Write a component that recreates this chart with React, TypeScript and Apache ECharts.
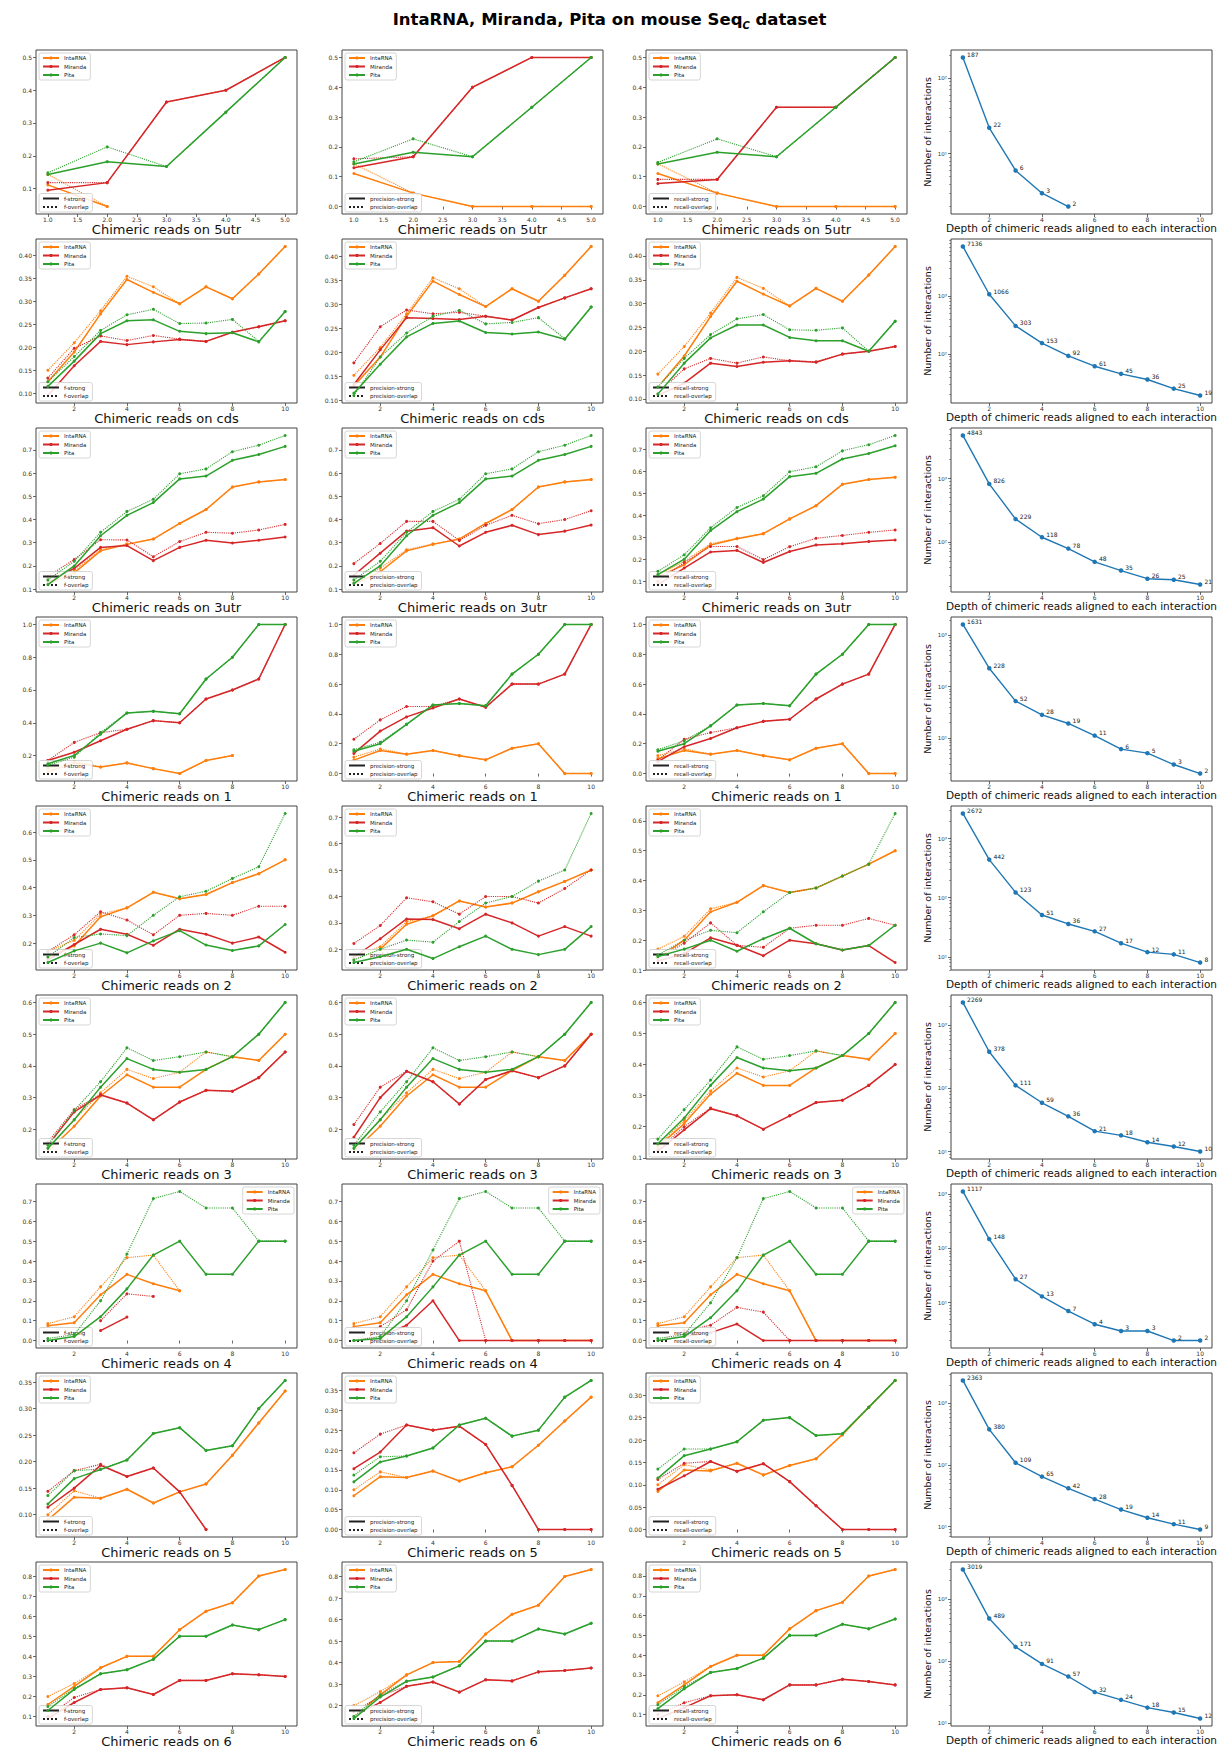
import React, { useEffect, useRef } from "react";
import * as echarts from "echarts";

const N = null;

const regions = ["5utr", "cds", "3utr", "1", "2", "3", "4", "5", "6"];
const methods = ["IntaRNA", "Miranda", "Pita"];
const methodColors = ["#ff7f0e", "#d62728", "#2ca02c"];
const metricPrefixes = ["f", "precision", "recall"];
const x5 = [1, 2, 3, 4, 5];
const x10 = [1, 2, 3, 4, 5, 6, 7, 8, 9, 10];
const xTicks5 = [1.0, 1.5, 2.0, 2.5, 3.0, 3.5, 4.0, 4.5, 5.0];
const xTicks10 = [2, 4, 6, 8, 10];
const logTicks = [1, 10, 100, 1000, 10000];
const yTickSteps = [
  [0.1, 0.1, 0.1],
  [0.05, 0.05, 0.05],
  [0.1, 0.1, 0.1],
  [0.2, 0.2, 0.2],
  [0.1, 0.1, 0.1],
  [0.1, 0.1, 0.1],
  [0.1, 0.1, 0.1],
  [0.05, 0.05, 0.05],
  [0.1, 0.1, 0.1],
];

// rows: IntaRNA strong, IntaRNA overlap, Miranda strong, Miranda overlap, Pita strong, Pita overlap
const f_5utr = [
  [0.111, 0.045, N, N, N],
  [0.143, 0.045, N, N, N],
  [0.095, 0.118, 0.364, 0.4, 0.5],
  [0.118, 0.118, 0.364, 0.4, 0.5],
  [0.143, 0.182, 0.167, 0.333, 0.5],
  [0.148, 0.227, 0.167, 0.333, 0.5],
];
const precision_5utr = [
  [0.111, 0.045, 0, 0, 0],
  [0.143, 0.045, 0, 0, 0],
  [0.13, 0.167, 0.4, 0.5, 0.5],
  [0.16, 0.167, 0.4, 0.5, 0.5],
  [0.143, 0.182, 0.167, 0.333, 0.5],
  [0.15, 0.227, 0.167, 0.333, 0.5],
];
const recall_5utr = [
  [0.111, 0.045, 0, 0, 0],
  [0.143, 0.045, 0, 0, 0],
  [0.077, 0.091, 0.333, 0.333, 0.5],
  [0.091, 0.091, 0.333, 0.333, 0.5],
  [0.143, 0.182, 0.167, 0.333, 0.5],
  [0.148, 0.227, 0.167, 0.333, 0.5],
];
const counts_5utr = [187, 22, 6, 3, 2];

const f_cds = [
  [0.125, 0.19, 0.273, 0.348, 0.32, 0.295, 0.332, 0.306, 0.36, 0.42],
  [0.15, 0.21, 0.28, 0.355, 0.332, 0.295, 0.332, 0.306, 0.36, 0.42],
  [0.095, 0.16, 0.213, 0.206, 0.212, 0.217, 0.213, 0.233, 0.245, 0.258],
  [0.133, 0.198, 0.225, 0.215, 0.226, 0.218, 0.213, 0.233, 0.245, 0.258],
  [0.115, 0.17, 0.23, 0.258, 0.26, 0.235, 0.23, 0.232, 0.212, 0.278],
  [0.125, 0.18, 0.237, 0.271, 0.283, 0.252, 0.253, 0.261, 0.213, 0.278],
];
const precision_cds = [
  [0.13, 0.19, 0.275, 0.348, 0.32, 0.295, 0.332, 0.306, 0.36, 0.42],
  [0.152, 0.21, 0.28, 0.355, 0.332, 0.295, 0.332, 0.306, 0.36, 0.42],
  [0.133, 0.205, 0.272, 0.27, 0.268, 0.275, 0.267, 0.293, 0.313, 0.332],
  [0.178, 0.253, 0.288, 0.28, 0.283, 0.275, 0.267, 0.293, 0.313, 0.332],
  [0.115, 0.175, 0.232, 0.26, 0.265, 0.241, 0.238, 0.242, 0.227, 0.294],
  [0.11, 0.19, 0.24, 0.275, 0.287, 0.259, 0.262, 0.272, 0.228, 0.294],
];
const recall_cds = [
  [0.125, 0.19, 0.273, 0.347, 0.32, 0.295, 0.332, 0.305, 0.36, 0.42],
  [0.152, 0.21, 0.28, 0.355, 0.332, 0.295, 0.332, 0.305, 0.36, 0.42],
  [0.107, 0.133, 0.175, 0.168, 0.177, 0.18, 0.177, 0.194, 0.2, 0.21],
  [0.112, 0.163, 0.185, 0.175, 0.188, 0.18, 0.178, 0.194, 0.2, 0.21],
  [0.11, 0.175, 0.228, 0.255, 0.255, 0.229, 0.222, 0.222, 0.2, 0.263],
  [0.125, 0.185, 0.235, 0.268, 0.277, 0.245, 0.244, 0.249, 0.2, 0.263],
];
const counts_cds = [7136, 1066, 303, 153, 92, 61, 45, 36, 25, 19];

const f_3utr = [
  [0.12, 0.17, 0.265, 0.293, 0.316, 0.383, 0.443, 0.54, 0.562, 0.572],
  [0.15, 0.18, 0.27, 0.295, 0.316, 0.383, 0.443, 0.54, 0.562, 0.572],
  [0.13, 0.19, 0.28, 0.288, 0.223, 0.28, 0.311, 0.299, 0.311, 0.325],
  [0.155, 0.228, 0.313, 0.312, 0.24, 0.305, 0.345, 0.341, 0.355, 0.379],
  [0.12, 0.2, 0.33, 0.418, 0.473, 0.575, 0.587, 0.655, 0.68, 0.715],
  [0.14, 0.22, 0.345, 0.435, 0.487, 0.597, 0.618, 0.692, 0.72, 0.762],
];
const precision_3utr = [
  [0.12, 0.175, 0.265, 0.293, 0.316, 0.383, 0.443, 0.54, 0.562, 0.572],
  [0.13, 0.19, 0.27, 0.295, 0.316, 0.383, 0.443, 0.54, 0.562, 0.572],
  [0.16, 0.255, 0.35, 0.365, 0.286, 0.345, 0.375, 0.335, 0.35, 0.376],
  [0.21, 0.297, 0.392, 0.392, 0.31, 0.375, 0.418, 0.382, 0.4, 0.438],
  [0.125, 0.2, 0.33, 0.418, 0.473, 0.575, 0.587, 0.655, 0.68, 0.715],
  [0.14, 0.22, 0.345, 0.435, 0.487, 0.597, 0.618, 0.692, 0.72, 0.762],
];
const recall_3utr = [
  [0.12, 0.175, 0.265, 0.293, 0.316, 0.383, 0.443, 0.54, 0.562, 0.572],
  [0.13, 0.19, 0.27, 0.295, 0.316, 0.383, 0.443, 0.54, 0.562, 0.572],
  [0.085, 0.16, 0.233, 0.24, 0.185, 0.235, 0.265, 0.27, 0.28, 0.287],
  [0.1, 0.185, 0.258, 0.258, 0.198, 0.257, 0.295, 0.308, 0.322, 0.333],
  [0.13, 0.2, 0.33, 0.416, 0.473, 0.575, 0.59, 0.655, 0.68, 0.715],
  [0.145, 0.22, 0.343, 0.435, 0.488, 0.597, 0.62, 0.692, 0.72, 0.762],
];
const counts_3utr = [4843, 826, 229, 118, 78, 48, 35, 26, 25, 21];

const f_1 = [
  [0.1, 0.155, 0.13, 0.155, 0.12, 0.09, 0.17, 0.2, N, N],
  [0.12, 0.165, 0.13, 0.155, 0.12, 0.09, 0.17, 0.2, N, N],
  [0.17, 0.22, 0.29, 0.36, 0.413, 0.4, 0.545, 0.6, 0.667, 1.0],
  [0.17, 0.28, 0.34, 0.36, 0.413, 0.4, 0.545, 0.6, 0.667, 1.0],
  [0.15, 0.2, 0.33, 0.46, 0.47, 0.455, 0.667, 0.8, 1.0, 1.0],
  [0.14, 0.19, 0.34, 0.46, 0.47, 0.455, 0.667, 0.8, 1.0, 1.0],
];
const precision_1 = [
  [0.09, 0.155, 0.13, 0.155, 0.12, 0.092, 0.17, 0.2, 0, 0],
  [0.11, 0.165, 0.13, 0.155, 0.12, 0.092, 0.17, 0.2, 0, 0],
  [0.135, 0.285, 0.38, 0.44, 0.5, 0.445, 0.6, 0.6, 0.667, 1.0],
  [0.23, 0.36, 0.45, 0.45, 0.5, 0.445, 0.6, 0.6, 0.667, 1.0],
  [0.15, 0.2, 0.33, 0.46, 0.47, 0.455, 0.667, 0.8, 1.0, 1.0],
  [0.16, 0.21, 0.33, 0.46, 0.47, 0.455, 0.667, 0.8, 1.0, 1.0],
];
const recall_1 = [
  [0.1, 0.155, 0.13, 0.155, 0.12, 0.092, 0.17, 0.2, 0, 0],
  [0.12, 0.165, 0.13, 0.155, 0.12, 0.092, 0.17, 0.2, 0, 0],
  [0.08, 0.18, 0.235, 0.307, 0.35, 0.364, 0.5, 0.6, 0.667, 1.0],
  [0.09, 0.23, 0.275, 0.307, 0.35, 0.364, 0.5, 0.6, 0.667, 1.0],
  [0.15, 0.2, 0.32, 0.46, 0.47, 0.455, 0.667, 0.8, 1.0, 1.0],
  [0.16, 0.22, 0.32, 0.46, 0.47, 0.455, 0.667, 0.8, 1.0, 1.0],
];
const counts_1 = [1631, 228, 52, 28, 19, 11, 6, 5, 3, 2];

const f_2 = [
  [0.15, 0.19, 0.295, 0.327, 0.383, 0.36, 0.375, 0.418, 0.45, 0.5],
  [0.17, 0.21, 0.305, 0.327, 0.383, 0.36, 0.375, 0.418, 0.45, 0.5],
  [0.14, 0.195, 0.25, 0.232, 0.192, 0.25, 0.232, 0.2, 0.222, 0.167],
  [0.17, 0.23, 0.313, 0.283, 0.23, 0.3, 0.307, 0.3, 0.333, 0.333],
  [0.13, 0.172, 0.2, 0.165, 0.208, 0.245, 0.193, 0.173, 0.19, 0.267],
  [0.15, 0.22, 0.233, 0.227, 0.3, 0.367, 0.387, 0.433, 0.475, 0.667],
];
const precision_2 = [
  [0.16, 0.2, 0.295, 0.327, 0.383, 0.36, 0.375, 0.418, 0.457, 0.5],
  [0.17, 0.21, 0.305, 0.327, 0.383, 0.36, 0.375, 0.418, 0.457, 0.5],
  [0.17, 0.24, 0.315, 0.313, 0.278, 0.333, 0.3, 0.25, 0.286, 0.25],
  [0.222, 0.29, 0.395, 0.38, 0.333, 0.4, 0.4, 0.375, 0.43, 0.5],
  [0.15, 0.172, 0.2, 0.165, 0.21, 0.25, 0.2, 0.18, 0.2, 0.286],
  [0.16, 0.2, 0.235, 0.227, 0.305, 0.375, 0.4, 0.458, 0.5, 0.714],
];
const recall_2 = [
  [0.14, 0.2, 0.295, 0.327, 0.383, 0.36, 0.375, 0.415, 0.455, 0.5],
  [0.17, 0.213, 0.305, 0.327, 0.383, 0.36, 0.375, 0.415, 0.455, 0.5],
  [0.13, 0.155, 0.208, 0.183, 0.148, 0.2, 0.188, 0.167, 0.182, 0.125],
  [0.14, 0.19, 0.258, 0.183, 0.176, 0.24, 0.25, 0.25, 0.273, 0.25],
  [0.145, 0.17, 0.2, 0.163, 0.205, 0.24, 0.188, 0.167, 0.182, 0.25],
  [0.15, 0.2, 0.233, 0.225, 0.295, 0.36, 0.375, 0.415, 0.455, 0.625],
];
const counts_2 = [2672, 442, 123, 51, 36, 27, 17, 12, 11, 8];

const f_3 = [
  [0.13, 0.21, 0.305, 0.372, 0.333, 0.333, 0.389, 0.429, 0.417, 0.5],
  [0.14, 0.23, 0.315, 0.389, 0.36, 0.38, 0.444, 0.429, 0.417, 0.5],
  [0.15, 0.255, 0.308, 0.283, 0.23, 0.286, 0.323, 0.32, 0.363, 0.444],
  [0.16, 0.262, 0.31, 0.283, 0.23, 0.286, 0.323, 0.32, 0.363, 0.444],
  [0.14, 0.23, 0.333, 0.423, 0.389, 0.38, 0.389, 0.429, 0.5, 0.6],
  [0.15, 0.26, 0.35, 0.457, 0.417, 0.429, 0.444, 0.429, 0.5, 0.6],
];
const precision_3 = [
  [0.13, 0.21, 0.305, 0.372, 0.333, 0.333, 0.385, 0.429, 0.417, 0.5],
  [0.14, 0.23, 0.315, 0.389, 0.36, 0.38, 0.444, 0.429, 0.417, 0.5],
  [0.175, 0.3, 0.383, 0.35, 0.28, 0.357, 0.385, 0.363, 0.4, 0.5],
  [0.215, 0.333, 0.383, 0.35, 0.28, 0.357, 0.385, 0.363, 0.4, 0.5],
  [0.14, 0.23, 0.333, 0.423, 0.389, 0.38, 0.389, 0.429, 0.5, 0.6],
  [0.15, 0.255, 0.35, 0.457, 0.417, 0.429, 0.444, 0.429, 0.5, 0.6],
];
const recall_3 = [
  [0.135, 0.21, 0.305, 0.372, 0.333, 0.333, 0.389, 0.429, 0.417, 0.5],
  [0.14, 0.22, 0.315, 0.389, 0.36, 0.38, 0.444, 0.429, 0.417, 0.5],
  [0.12, 0.19, 0.258, 0.235, 0.192, 0.235, 0.278, 0.285, 0.333, 0.4],
  [0.125, 0.2, 0.26, 0.235, 0.192, 0.235, 0.278, 0.285, 0.333, 0.4],
  [0.145, 0.228, 0.333, 0.423, 0.389, 0.38, 0.389, 0.429, 0.5, 0.6],
  [0.16, 0.255, 0.35, 0.457, 0.417, 0.429, 0.444, 0.429, 0.5, 0.6],
];
const counts_3 = [2269, 378, 111, 59, 36, 21, 18, 14, 12, 10];

const f_4 = [
  [0.075, 0.09, 0.23, 0.333, 0.286, 0.25, N, N, N, N],
  [0.085, 0.12, 0.27, 0.417, 0.43, 0.25, N, N, N, N],
  [N, N, 0.05, 0.118, N, N, N, N, N, N],
  [N, N, 0.1, 0.235, 0.222, N, N, N, N, N],
  [0.0, 0.02, 0.12, 0.26, 0.43, 0.5, 0.333, 0.333, 0.5, 0.5],
  [0.01, 0.03, 0.2, 0.435, 0.714, 0.75, 0.667, 0.667, 0.5, 0.5],
];
const precision_4 = [
  [0.07, 0.09, 0.23, 0.333, 0.286, 0.25, 0, 0, 0, 0],
  [0.085, 0.12, 0.27, 0.417, 0.43, 0.25, 0, 0, 0, 0],
  [0.0, 0.02, 0.077, 0.2, 0, 0, 0, 0, 0, 0],
  [0.0, 0.07, 0.155, 0.4, 0.5, 0, 0, 0, 0, 0],
  [0.0, 0.01, 0.12, 0.27, 0.43, 0.5, 0.333, 0.333, 0.5, 0.5],
  [0.0, 0.02, 0.2, 0.455, 0.714, 0.75, 0.667, 0.667, 0.5, 0.5],
];
const recall_4 = [
  [0.075, 0.09, 0.23, 0.333, 0.286, 0.25, 0, 0, 0, 0],
  [0.085, 0.12, 0.27, 0.417, 0.43, 0.25, 0, 0, 0, 0],
  [0.0, 0.02, 0.04, 0.083, 0, 0, 0, 0, 0, 0],
  [0.0, 0.05, 0.077, 0.167, 0.143, 0, 0, 0, 0, 0],
  [0.0, 0.02, 0.115, 0.25, 0.43, 0.5, 0.333, 0.333, 0.5, 0.5],
  [0.01, 0.03, 0.19, 0.417, 0.714, 0.75, 0.667, 0.667, 0.5, 0.5],
];
const counts_4 = [1117, 148, 27, 13, 7, 4, 3, 3, 2, 2];

const f_5 = [
  [0.09, 0.133, 0.131, 0.148, 0.122, 0.143, 0.158, 0.212, 0.273, 0.333],
  [0.1, 0.145, 0.131, 0.148, 0.122, 0.143, 0.158, 0.212, 0.273, 0.333],
  [0.114, 0.15, 0.193, 0.172, 0.188, 0.143, 0.072, N, N, N],
  [0.144, 0.183, 0.195, 0.172, 0.188, 0.143, 0.072, N, N, N],
  [0.12, 0.168, 0.185, 0.203, 0.253, 0.264, 0.221, 0.23, 0.3, 0.353],
  [0.136, 0.183, 0.186, 0.203, 0.253, 0.264, 0.221, 0.23, 0.3, 0.353],
];
const precision_5 = [
  [0.085, 0.133, 0.131, 0.147, 0.122, 0.143, 0.158, 0.212, 0.273, 0.333],
  [0.1, 0.145, 0.131, 0.147, 0.122, 0.143, 0.158, 0.212, 0.273, 0.333],
  [0.153, 0.195, 0.263, 0.25, 0.26, 0.214, 0.111, 0, 0, 0],
  [0.193, 0.24, 0.263, 0.25, 0.26, 0.214, 0.111, 0, 0, 0],
  [0.12, 0.17, 0.185, 0.205, 0.263, 0.28, 0.235, 0.25, 0.333, 0.375],
  [0.137, 0.183, 0.185, 0.205, 0.263, 0.28, 0.235, 0.25, 0.333, 0.375],
];
const recall_5 = [
  [0.085, 0.133, 0.131, 0.148, 0.122, 0.143, 0.158, 0.212, 0.273, 0.333],
  [0.1, 0.145, 0.133, 0.148, 0.122, 0.143, 0.158, 0.212, 0.273, 0.333],
  [0.09, 0.12, 0.152, 0.13, 0.147, 0.107, 0.053, 0, 0, 0],
  [0.112, 0.148, 0.152, 0.13, 0.147, 0.107, 0.053, 0, 0, 0],
  [0.115, 0.165, 0.18, 0.196, 0.244, 0.25, 0.21, 0.214, 0.273, 0.333],
  [0.135, 0.18, 0.18, 0.196, 0.244, 0.25, 0.21, 0.214, 0.273, 0.333],
];
const counts_5 = [2363, 380, 109, 65, 42, 28, 19, 14, 11, 9];

const f_6 = [
  [0.16, 0.25, 0.343, 0.4, 0.4, 0.533, 0.625, 0.667, 0.8, 0.833],
  [0.2, 0.265, 0.343, 0.4, 0.4, 0.533, 0.625, 0.667, 0.8, 0.833],
  [0.09, 0.17, 0.235, 0.243, 0.21, 0.28, 0.28, 0.313, 0.308, 0.3],
  [0.1, 0.195, 0.235, 0.243, 0.21, 0.28, 0.28, 0.313, 0.308, 0.3],
  [0.13, 0.235, 0.313, 0.333, 0.385, 0.5, 0.5, 0.556, 0.533, 0.583],
  [0.15, 0.24, 0.313, 0.333, 0.385, 0.5, 0.5, 0.556, 0.533, 0.583],
];
const precision_6 = [
  [0.15, 0.25, 0.343, 0.4, 0.405, 0.533, 0.625, 0.667, 0.8, 0.833],
  [0.2, 0.265, 0.343, 0.4, 0.405, 0.533, 0.625, 0.667, 0.8, 0.833],
  [0.15, 0.215, 0.29, 0.31, 0.263, 0.32, 0.315, 0.357, 0.363, 0.375],
  [0.17, 0.245, 0.29, 0.31, 0.263, 0.32, 0.315, 0.357, 0.363, 0.375],
  [0.14, 0.24, 0.313, 0.333, 0.385, 0.5, 0.5, 0.556, 0.533, 0.583],
  [0.15, 0.25, 0.313, 0.333, 0.385, 0.5, 0.5, 0.556, 0.533, 0.583],
];
const recall_6 = [
  [0.16, 0.25, 0.343, 0.4, 0.4, 0.533, 0.625, 0.667, 0.8, 0.833],
  [0.195, 0.265, 0.343, 0.4, 0.4, 0.533, 0.625, 0.667, 0.8, 0.833],
  [0.08, 0.135, 0.195, 0.2, 0.175, 0.25, 0.25, 0.278, 0.267, 0.25],
  [0.1, 0.16, 0.195, 0.2, 0.175, 0.25, 0.25, 0.278, 0.267, 0.25],
  [0.13, 0.23, 0.313, 0.333, 0.385, 0.5, 0.5, 0.556, 0.533, 0.583],
  [0.15, 0.24, 0.313, 0.333, 0.385, 0.5, 0.5, 0.556, 0.533, 0.583],
];
const counts_6 = [3019, 489, 171, 91, 57, 32, 24, 18, 15, 12];

const fRows = [f_5utr, f_cds, f_3utr, f_1, f_2, f_3, f_4, f_5, f_6];
const precisionRows = [precision_5utr, precision_cds, precision_3utr, precision_1, precision_2, precision_3, precision_4, precision_5, precision_6];
const recallRows = [recall_5utr, recall_cds, recall_3utr, recall_1, recall_2, recall_3, recall_4, recall_5, recall_6];
const countRows = [counts_5utr, counts_cds, counts_3utr, counts_1, counts_2, counts_3, counts_4, counts_5, counts_6];
const metricRows = [fRows, precisionRows, recallRows];

const W = 1219;
const H = 1749;
const FONT = "'DejaVu Sans', sans-serif";
const SUP: Record<string, string> = { "0": "⁰", "1": "¹", "2": "²", "3": "³", "4": "⁴", "5": "⁵" };

function buildOption() {
  const colLefts = [36, 342, 646, 951];
  const colW = 261;
  const rowTop0 = 50;
  const rowPitch = 189;
  const plotH = 164;

  const grids: any[] = [];
  const xAxes: any[] = [];
  const yAxes: any[] = [];
  const series: any[] = [];
  const legends: any[] = [];

  const legendBase = {
    orient: "vertical",
    itemWidth: 16,
    itemHeight: 4,
    itemGap: 2.5,
    padding: [2, 4, 2, 3],
    borderColor: "#cccccc",
    borderWidth: 0.8,
    borderRadius: 2,
    backgroundColor: "rgba(255,255,255,0.85)",
    textStyle: { fontSize: 5.5, color: "#222", fontFamily: FONT },
    selectedMode: false,
  };

  const tickStyle = { length: 3, lineStyle: { color: "#444", width: 0.8 } };
  const labelStyle = { fontSize: 6, color: "#333", margin: 4, fontFamily: FONT };
  const hiddenMarker = { itemStyle: { opacity: 0, color: "rgba(0,0,0,0)", borderWidth: 0 } };

  for (let r = 0; r < 9; r++) {
    const top = rowTop0 + rowPitch * r;
    const xs = r === 0 ? x5 : x10;
    const xMin = r === 0 ? 0.8 : 0.55;
    const xMax = r === 0 ? 5.2 : 10.45;
    const xt = r === 0 ? xTicks5 : xTicks10;
    const xFmt = (v: number) => (r === 0 ? v.toFixed(1) : String(Math.round(v)));

    for (let c = 0; c < 4; c++) {
      const gi = r * 4 + c;
      const left = colLefts[c];
      grids.push({
        left, top, width: colW, height: plotH, show: true,
        borderColor: "#444", borderWidth: 1, backgroundColor: "transparent",
        containLabel: false, outerBoundsMode: "none",
      });

      if (c < 3) {
        const rows = metricRows[c][r];
        const all: number[] = [];
        rows.forEach((arr: any[]) => arr.forEach((v) => { if (v !== null) all.push(v); }));
        const dmin = Math.min(...all);
        const dmax = Math.max(...all);
        const pad = (dmax - dmin) * 0.05;
        const yMin = dmin - pad;
        const yMax = dmax + pad;
        const step = yTickSteps[r][c];
        const dec = step < 0.1 ? 2 : 1;
        const yt: number[] = [];
        for (let v = Math.ceil((yMin - 1e-9) / step) * step; v <= yMax + 1e-9; v += step) {
          yt.push(Math.round(v * 10000) / 10000);
        }
        xAxes.push({
          type: "value", gridIndex: gi, min: xMin, max: xMax,
          axisLine: { show: false }, splitLine: { show: false },
          axisTick: { show: true, customValues: xt, ...tickStyle },
          axisLabel: { customValues: xt, formatter: xFmt, ...labelStyle, margin: 2 },
          name: "Chimeric reads on " + regions[r], nameLocation: "middle", nameGap: 9,
          nameMoveOverlap: false,
          nameTextStyle: { fontSize: 13, color: "#111", fontFamily: FONT, verticalAlign: "top" },
        });
        const xIdx = xAxes.length - 1;
        yAxes.push({
          type: "value", gridIndex: gi, min: yMin, max: yMax,
          axisLine: { show: false }, splitLine: { show: false },
          axisTick: { show: true, customValues: yt, ...tickStyle },
          axisLabel: { customValues: yt, formatter: (v: number) => v.toFixed(dec), ...labelStyle },
        });
        const yIdx = yAxes.length - 1;
        if (r === 0 && c === 0) {
          metricPrefixes.forEach((p) => {
            series.push({
              type: "line", name: p + "-strong", xAxisIndex: xIdx, yAxisIndex: yIdx, data: [],
              symbol: "none", lineStyle: { color: "#222", width: 1.3, type: "solid" }, itemStyle: { color: "#222" },
            });
            series.push({
              type: "line", name: p + "-overlap", xAxisIndex: xIdx, yAxisIndex: yIdx, data: [],
              symbol: "none", lineStyle: { color: "#222", width: 1.1, type: "dotted" }, itemStyle: { color: "#222" },
            });
          });
        }
        for (let m = 0; m < 3; m++) {
          for (let k = 0; k < 2; k++) {
            const vals = rows[m * 2 + k];
            series.push({
              type: "line", name: methods[m], xAxisIndex: xIdx, yAxisIndex: yIdx,
              data: xs.map((x, i) => [x, vals[i] === null ? "-" : vals[i]]),
              symbol: "circle", symbolSize: 3, showSymbol: true, connectNulls: false,
              lineStyle: { color: methodColors[m], width: k === 0 ? 1.5 : 1.1, type: k === 0 ? "solid" : "dotted" },
              itemStyle: { color: methodColors[m] },
              silent: true, z: 2 + m,
            });
          }
        }
        const topLegend: any = { ...legendBase, data: methods, top: top + 3 };
        if (r === 6) topLegend.right = W - (left + colW) + 3;
        else topLegend.left = left + 3;
        legends.push(topLegend);
        legends.push({
          ...legendBase,
          data: [
            { name: metricPrefixes[c] + "-strong", ...hiddenMarker },
            { name: metricPrefixes[c] + "-overlap", ...hiddenMarker },
          ],
          left: left + 3, bottom: H - (top + plotH) + 2,
        });
      } else {
        const counts = countRows[r];
        const lmin = Math.log10(Math.min(...counts));
        const lmax = Math.log10(Math.max(...counts));
        const lp = (lmax - lmin) * 0.05;
        const yMin = Math.pow(10, lmin - lp);
        const yMax = Math.pow(10, lmax + lp);
        const minor: number[] = [];
        for (let e = 0; e < 4; e++) for (let d = 2; d <= 9; d++) minor.push(d * Math.pow(10, e));
        xAxes.push({
          type: "value", gridIndex: gi, min: 0.55, max: 10.45,
          axisLine: { show: false }, splitLine: { show: false },
          axisTick: { show: true, customValues: xTicks10, ...tickStyle },
          axisLabel: { customValues: xTicks10, formatter: (v: number) => String(Math.round(v)), ...labelStyle, margin: 2 },
          name: "Depth of chimeric reads aligned to each interaction", nameLocation: "middle", nameGap: 8,
          nameMoveOverlap: false,
          nameTextStyle: { fontSize: 10.5, color: "#111", fontFamily: FONT, verticalAlign: "top" },
        });
        const xIdx = xAxes.length - 1;
        yAxes.push({
          type: "log", logBase: 10, gridIndex: gi, min: yMin, max: yMax,
          axisLine: { show: false }, splitLine: { show: false }, minorTick: { show: false },
          axisTick: { show: true, customValues: logTicks, ...tickStyle },
          axisLabel: {
            customValues: logTicks, ...labelStyle, fontSize: 5.5,
            formatter: (v: number) => "10" + (SUP[String(Math.round(Math.log10(v)))] || ""),
          },
          name: "Number of interactions", nameLocation: "middle", nameGap: 19,
          nameMoveOverlap: false,
          nameTextStyle: { fontSize: 9.5, color: "#111", fontFamily: FONT },
        });
        const yIdx = yAxes.length - 1;
        yAxes.push({
          type: "log", logBase: 10, gridIndex: gi, min: yMin, max: yMax, position: "left",
          axisLine: { show: false }, splitLine: { show: false },
          axisTick: { show: true, customValues: minor, length: 1.8, lineStyle: { color: "#444", width: 0.6 } },
          axisLabel: { show: false },
        });
        series.push({
          type: "line", name: "count-" + regions[r], xAxisIndex: xIdx, yAxisIndex: yIdx,
          data: x10.slice(0, counts.length).map((x, i) => [x, counts[i]]),
          symbol: "circle", symbolSize: 4.5,
          lineStyle: { color: "#1f77b4", width: 1.4 }, itemStyle: { color: "#1f77b4" },
          label: {
            show: true, position: "right", distance: 2, offset: [0, -3],
            fontSize: 6, color: "#222", fontFamily: FONT,
            formatter: (p: any) => String(p.value[1]),
          },
          silent: true,
        });
      }
    }
  }

  return {
    animation: false,
    backgroundColor: "#ffffff",
    textStyle: { fontFamily: FONT },
    title: {
      text: "{a|IntaRNA, Miranda, Pita on mouse Seq}{s|C}{a| dataset}",
      left: "center",
      top: 3,
      textStyle: {
        rich: {
          a: { fontSize: 16.5, fontWeight: "bold", color: "#000", fontFamily: FONT, lineHeight: 22 },
          s: { fontSize: 10, fontStyle: "italic", color: "#000", fontFamily: FONT, lineHeight: 13, verticalAlign: "bottom" },
        },
      },
    },
    grid: grids,
    xAxis: xAxes,
    yAxis: yAxes,
    legend: legends,
    series,
  };
}

export default function App() {
  const ref = useRef<HTMLDivElement>(null);
  useEffect(() => {
    if (!ref.current) return;
    const chart = echarts.init(ref.current, null, { renderer: "svg" });
    chart.setOption(buildOption() as any);
    return () => chart.dispose();
  }, []);
  return (
    <div
      ref={ref}
      style={{ position: "absolute", left: 0, top: 0, width: W, height: H, background: "#fff" }}
    />
  );
}
